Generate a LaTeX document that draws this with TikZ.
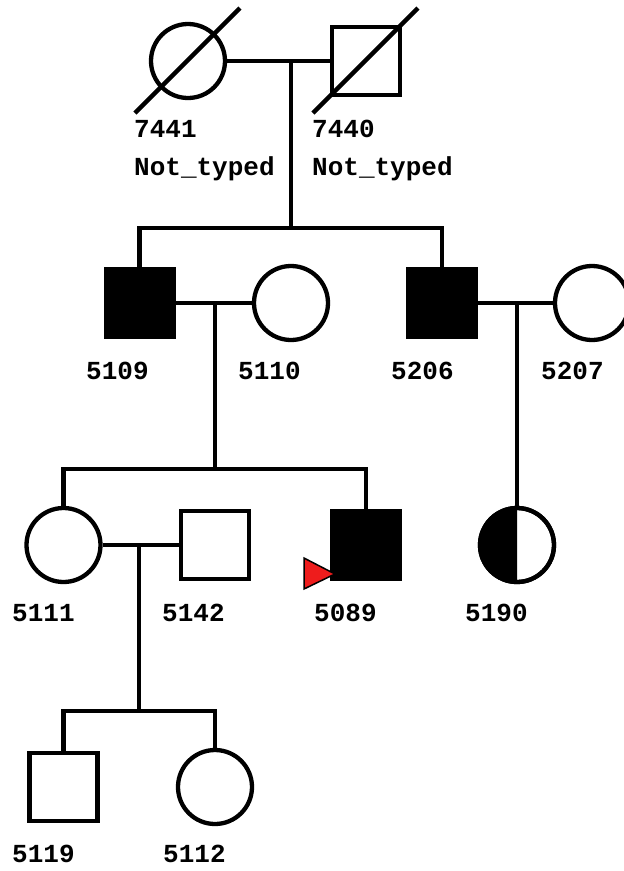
\documentclass[tikz,border=0pt]{standalone}
\usepackage{fontspec}
\newfontfamily\lblfont{Liberation Mono}
\begin{document}
\begin{tikzpicture}[x=1pt,y=-1pt,
  lw/.style={line width=4.3pt},
  male/.style={draw,lw,rectangle,minimum size=68pt,inner sep=0pt,fill=white},
  affmale/.style={draw,fill=black,line width=1pt,rectangle,minimum size=71pt,inner sep=0pt},
  female/.style={draw,lw,circle,minimum size=74pt,inner sep=0pt,fill=white},
  lbl/.style={anchor=base west,inner sep=0pt,font=\lblfont\bfseries\fontsize{26}{30}\selectfont},
  conn/.style={lw,line cap=rect}]
\clip (0,0) rectangle (624,871);
\fill[white] (0,0) rectangle (624,871);
% generation I
\node[female] (p7441) at (188,61) {};
\node[male] (p7440) at (366,61) {};
\coordinate (s7441a) at (135,113);
\coordinate (s7441b) at (240,8);
\coordinate (s7440a) at (313,113);
\coordinate (s7440b) at (418,8);
\draw[lw] (s7441a) -- (s7441b);
\draw[lw] (s7440a) -- (s7440b);
\node[lbl] (l7441) at (134,137) {7441};
\node[lbl] (n7441) at (134,175) {Not\_typed};
\node[lbl] (l7440) at (312,137) {7440};
\node[lbl] (n7440) at (312,175) {Not\_typed};
% generation II
\node[affmale] (p5109) at (139.5,303) {};
\node[female] (p5110) at (291,303) {};
\node[affmale] (p5206) at (442,303) {};
\node[female] (p5207) at (592,303) {};
\node[lbl] (l5109) at (86,379) {5109};
\node[lbl] (l5110) at (238,379) {5110};
\node[lbl] (l5206) at (391,379) {5206};
\node[lbl] (l5207) at (541,379) {5207};
% generation III
\node[female] (p5111) at (63.5,545) {};
\node[male] (p5142) at (215,545) {};
\node[affmale] (p5089) at (366,545) {};
\node[female] (p5190) at (517,545) {};
\begin{scope}
  \clip (470,500) rectangle (517,592);
  \fill[black] (p5190.center) circle (37pt);
\end{scope}
\draw[lw] (p5190.center) circle (37pt);
\node[lbl] (l5111) at (12,621) {5111};
\node[lbl] (l5142) at (162,621) {5142};
\node[lbl] (l5089) at (314,621) {5089};
\node[lbl] (l5190) at (465,621) {5190};
\coordinate (t1) at (304,558);
\coordinate (t2) at (304,589);
\coordinate (t3) at (335,574);
\filldraw[fill={rgb,255:red,238;green,28;blue,28},draw=black,line width=1.5pt,line join=miter] (t1) -- (t3) -- (t2) -- cycle;
% generation IV
\node[male] (p5119) at (63.5,787) {};
\node[female] (p5112) at (215,787) {};
\node[lbl] (l5119) at (12,862) {5119};
\node[lbl] (l5112) at (163,862) {5112};
% connectors
\coordinate (m1) at (291,61);
\coordinate (s1) at (291,228);
\draw[lw] (p7441.east) -- (p7440.west);
\draw[lw] (m1) -- (s1);
\draw[lw] (p5109.north) |- (s1) -| (p5206.north);
\coordinate (m2) at (215,303);
\coordinate (s2) at (215,469);
\draw[lw] (p5109.east) -- (p5110.west);
\draw[lw] (m2) -- (s2);
\draw[lw] (p5111.north) |- (s2) -| (p5089.north);
\coordinate (m3) at (517,303);
\draw[lw] (p5206.east) -- (p5207.west);
\draw[lw] (m3) -- (p5190.north);
\coordinate (m4) at (139,545);
\coordinate (s4) at (139,711);
\draw[lw] (p5111.east) -- (p5142.west);
\draw[lw] (m4) -- (s4);
\draw[lw] (p5119.north) |- (s4) -| (p5112.north);
\end{tikzpicture}
\end{document}
